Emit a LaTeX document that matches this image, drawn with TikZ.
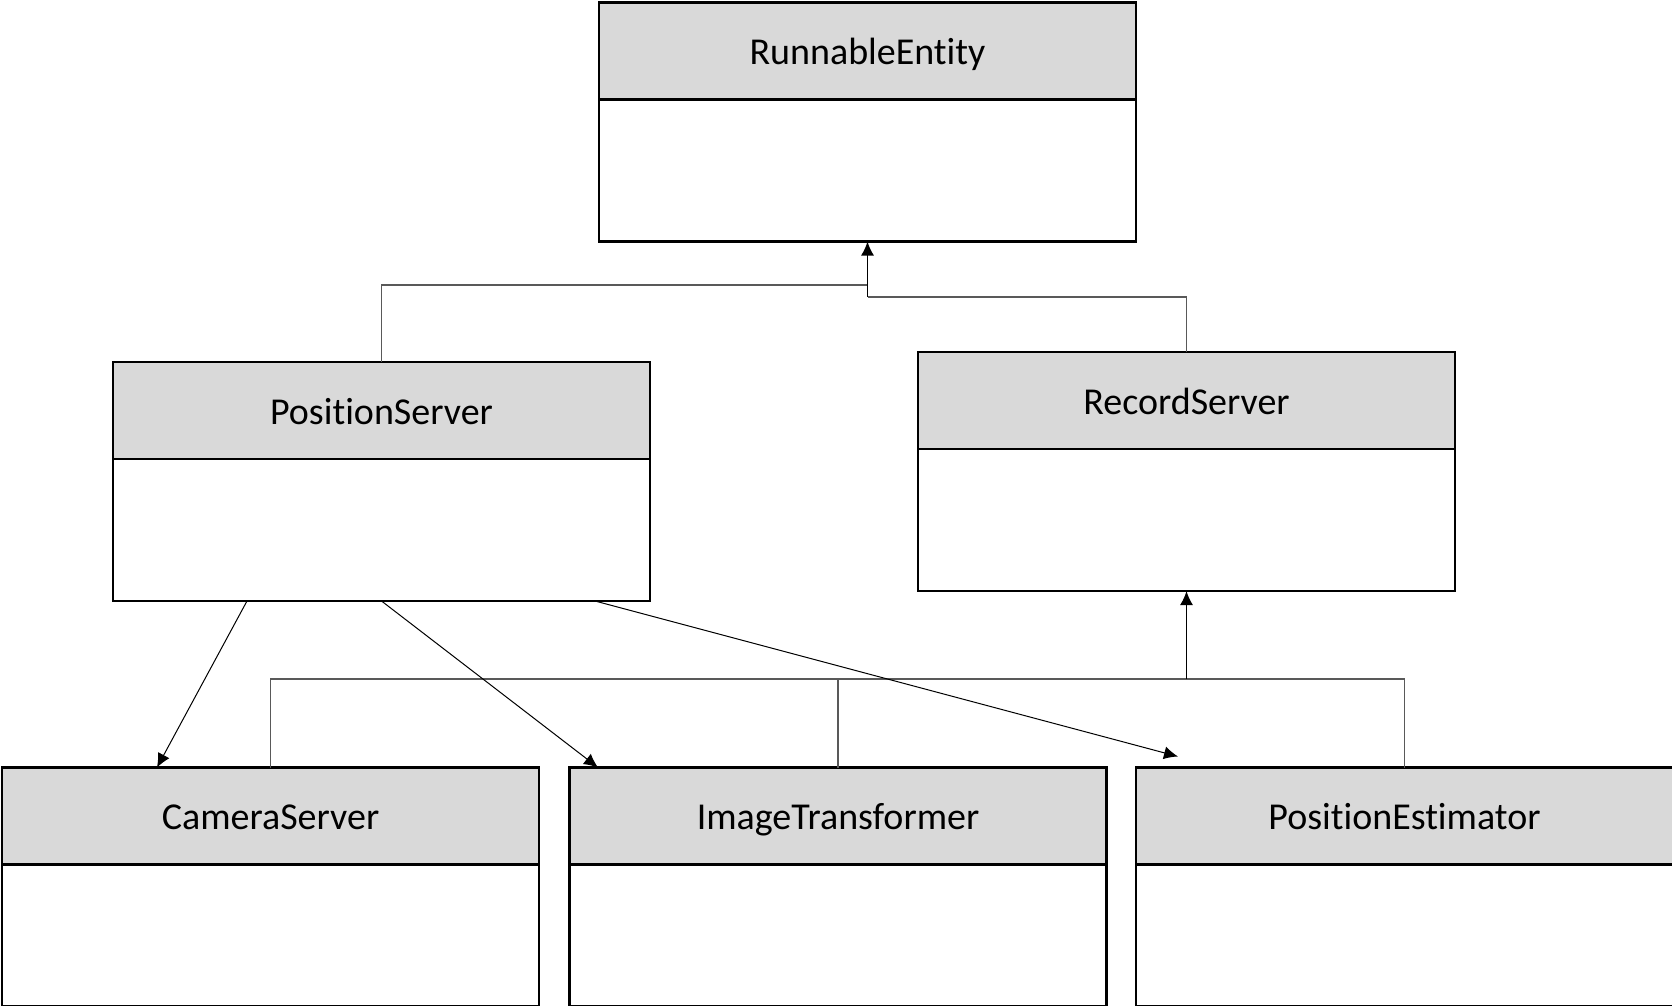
\documentclass[tikz,border=0pt]{standalone}
\usepackage{fontspec}
\setmainfont{Carlito}[Ligatures=CommonOff]
\usetikzlibrary{positioning,calc,arrows.meta}
\definecolor{headgray}{HTML}{D9D9D9}
\definecolor{linkgray}{HTML}{595959}
\begin{document}
\begin{tikzpicture}[x=0.5pt, y=-0.5pt, >={Latex[length=7pt,width=6.5pt]},
  class head/.style={rectangle,draw,fill=headgray,line width=1.1pt,outer sep=0pt,minimum width=268.5pt,minimum height=48.5pt,inner sep=0pt,text height=17.6pt,text depth=4pt,font=\fontsize{19}{23}\selectfont},
  class body/.style={rectangle,draw,fill=white,line width=1.1pt,outer sep=0pt,minimum width=268.5pt,minimum height=71pt,inner sep=0pt},
  link/.style={draw=linkgray,line width=0.6pt},
  inherit/.style={draw=black,line width=0.8pt,->}]
\clip (0,0) rectangle (1672,1006);
\fill[white] (0,0) rectangle (1672,1006);
% classes
\node [class head](ent) at (867.5,51) {RunnableEntity};
\node [class body,below=0pt of ent](entb) {};
\node [class head](pos) at (381.5,410.5) {PositionServer};
\node [class body,below=0pt of pos](posb) {};
\node [class head](rec) at (1186.5,400.5) {RecordServer};
\node [class body,below=0pt of rec](recb) {};
\node [class head](cam) at (270.5,816) {CameraServer};
\node [class body,below=0pt of cam](camb) {};
\node [class head](img) at (838,816) {ImageTransformer};
\node [class body,below=0pt of img](imgb) {};
\node [class head](est) at (1404.5,816) {PositionEstimator};
\node [class body,below=0pt of est](estb) {};
% inheritance joints
\coordinate (entj) at (867.5,285);
\coordinate (recj) at (867.5,297);
\coordinate (botj) at (1186.5,679);
\draw [link] (pos.north) |- (entj);
\draw [link] (rec.north) |- (recj);
\draw [inherit] (recj) -- (entb.south);
\draw [link] (cam.north) |- (botj);
\draw [link] (est.north) |- (botj);
\draw [link] (img.north) -- ++(0,-89);
\draw [inherit] (botj) -- (recb.south);
% associations
\path [draw=black,line width=0.5pt]
	($(posb.south)+(-134.5,0)$) edge [->] ($(cam.north)+(-113.5,0)$)
	(posb.south) edge [->] ($(img.north)+(-240,0)$)
	($(posb.south)+(213.5,0)$) edge [->] ($(est.north)+(-226.5,-11)$)
	;
\end{tikzpicture}
\end{document}
